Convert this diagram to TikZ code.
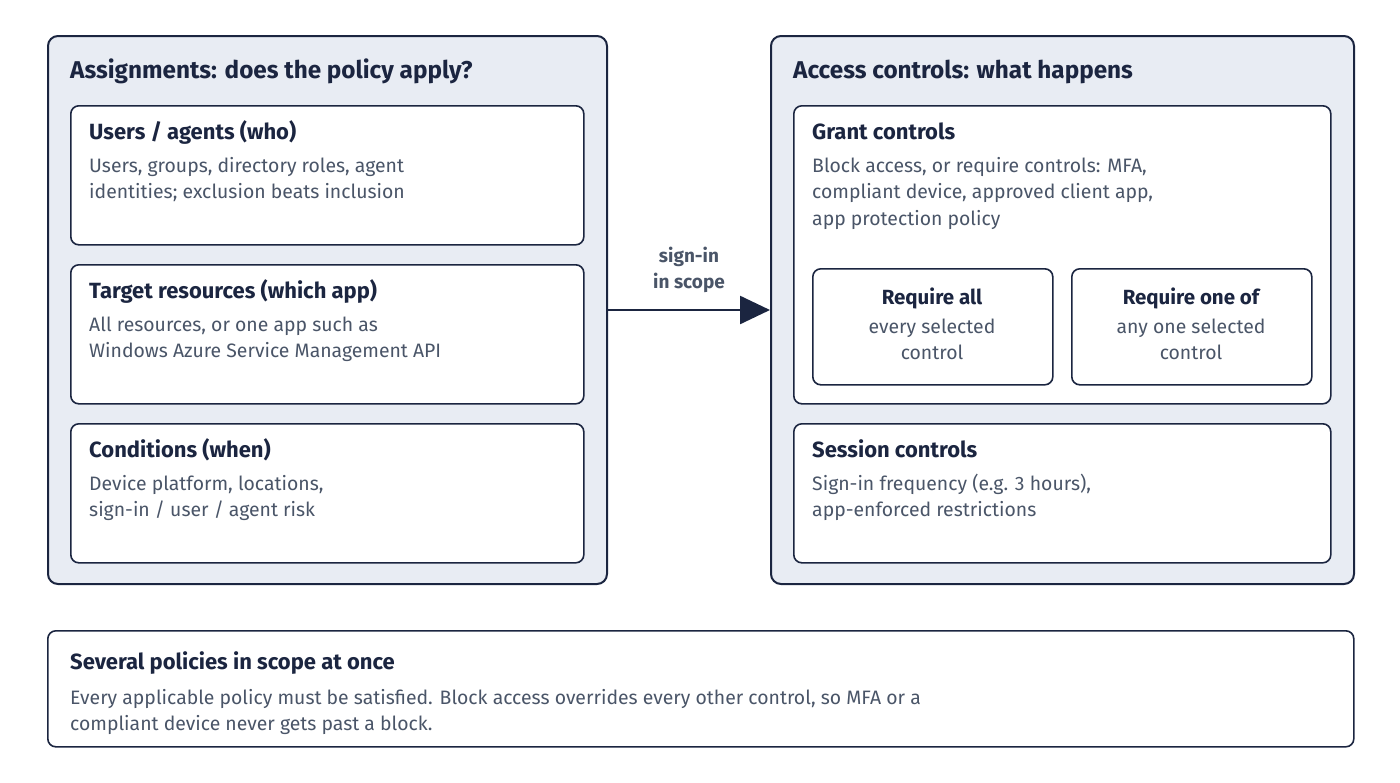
\documentclass[tikz,border=0pt]{standalone}
\usepackage{fontspec}
\setmainfont{Fira Sans}
\usetikzlibrary{arrows.meta,positioning}

\definecolor{navy}{HTML}{1B2540}
\definecolor{panelfill}{HTML}{E8ECF3}
\definecolor{bodygray}{HTML}{4A5568}

\begin{document}
\begin{tikzpicture}[x=1pt,y=-1pt,
  panel/.style={draw=navy, line width=2pt, fill=panelfill, rounded corners=10pt, inner sep=0pt, anchor=north west},
  card/.style={draw=navy, line width=1.6pt, fill=white, rounded corners=8pt, inner sep=0pt, anchor=north west},
  head/.style={anchor=base west, inner sep=0pt, text=navy, font=\fontsize{24.3}{28}\selectfont\bfseries},
  ttl/.style={anchor=base west, inner sep=0pt, text=navy, font=\fontsize{22}{26}\selectfont\bfseries},
  txt/.style={anchor=base west, inner sep=0pt, text=bodygray, align=left, font=\fontsize{19.4}{26.5}\selectfont},
  arr/.style={draw=navy, line width=2.5pt, -{Triangle[length=30pt,width=28pt]}}]
  \useasboundingbox (0,0) rectangle (1400,782);

  % left panel: assignments
  \node[panel, minimum width=559pt, minimum height=548pt] (assign) at (47,35) {};
  \node[head] (assignhead) at (70,78) {Assignments: does the policy apply?};
  \node[card, minimum width=513pt, minimum height=139pt] (users) at (70,105) {};
  \node[ttl] (usersttl) at (89,139) {Users / agents (who)};
  \node[txt] (userstxt) at (89,198.5) {Users, groups, directory roles, agent\\identities; exclusion beats inclusion};
  \node[card, minimum width=513pt, minimum height=139pt] (target) at (70,264) {};
  \node[ttl] (targetttl) at (89,298) {Target resources (which app)};
  \node[txt] (targettxt) at (89,357.5) {All resources, or one app such as\\Windows Azure Service Management API};
  \node[card, minimum width=513pt, minimum height=139pt] (cond) at (70,423) {};
  \node[ttl] (condttl) at (89,457) {Conditions (when)};
  \node[txt] (condtxt) at (89,516.5) {Device platform, locations,\\sign-in / user / agent risk};

  % right panel: access controls
  \node[panel, minimum width=583pt, minimum height=548pt] (access) at (770,35) {};
  \node[head] (accesshead) at (793,78) {Access controls: what happens};
  \node[card, minimum width=537pt, minimum height=298pt] (grant) at (793,105) {};
  \node[ttl] (grantttl) at (812,139) {Grant controls};
  \node[txt] (granttxt) at (812,225) {Block access, or require controls: MFA,\\compliant device, approved client app,\\app protection policy};
  \node[card, minimum width=240pt, minimum height=116pt] (reqall) at (812,268) {};
  \node[ttl, anchor=base, font=\fontsize{20.5}{24}\selectfont\bfseries] (reqallttl) at (932,304) {Require all};
  \node[txt, anchor=base, align=center] (reqalltxt) at (932,359.5) {every selected\\control};
  \node[card, minimum width=240pt, minimum height=116pt] (reqone) at (1071,268) {};
  \node[ttl, anchor=base, font=\fontsize{20.5}{24}\selectfont\bfseries] (reqonettl) at (1191,304) {Require one of};
  \node[txt, anchor=base, align=center] (reqonetxt) at (1191,359.5) {any one selected\\control};
  \node[card, minimum width=537pt, minimum height=139pt] (session) at (793,423) {};
  \node[ttl] (sessionttl) at (812,457) {Session controls};
  \node[txt] (sessiontxt) at (812,516.5) {Sign-in frequency (e.g. 3 hours),\\app-enforced restrictions};

  % flow between the panels
  \draw[arr] (assign.east) -- node[above=16pt, align=center, text=bodygray, inner sep=0pt,
    font=\fontsize{19}{26}\selectfont\bfseries] (scopelbl) {sign-in\\in scope} (access.west);

  % note at the bottom
  \node[card, minimum width=1306pt, minimum height=116pt] (note) at (47,630) {};
  \node[ttl] (notettl) at (70,669) {Several policies in scope at once};
  \node[txt] (notetxt) at (70,730.5) {Every applicable policy must be satisfied. Block access overrides every other control, so MFA or a\\compliant device never gets past a block.};
\end{tikzpicture}
\end{document}
